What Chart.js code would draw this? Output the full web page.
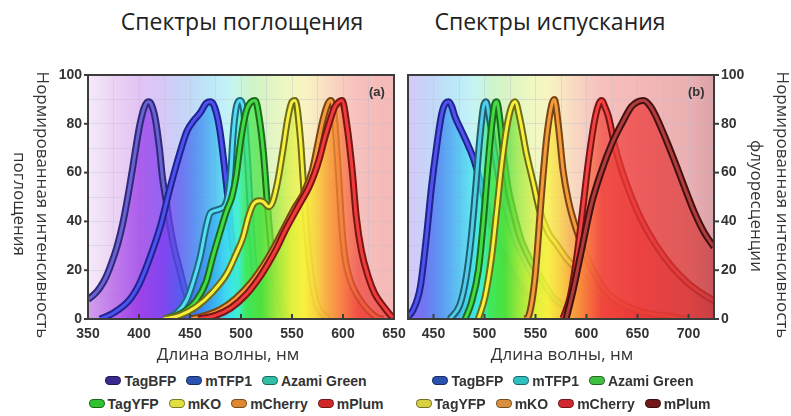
<!DOCTYPE html>
<html lang="ru">
<head>
<meta charset="UTF-8">
<title>Спектры поглощения и испускания</title>
<script src="https://cdn.jsdelivr.net/npm/chart.js"></script>
<style>
  body { margin: 0; width: 791px; height: 416px; position: relative; overflow: hidden; background: #fff; font-family: "Open Sans", sans-serif; color: #333; }
  .abs { position: absolute; white-space: nowrap; }
  .center { transform: translate(-50%, -50%); }
  .title { font-size: 23px; color: #222; }
  .xtitle { font-size: 17px; color: #333; }
  .ytitle { font-size: 17px; line-height: 20px; color: #333; transform: translate(-50%, -50%) rotate(90deg); }
  .panel { font: bold 13px "Liberation Sans", Arial, sans-serif; color: #333; }
  .legend { position: absolute; top: 369px; width: 420px; }
  .legend .row { display: flex; justify-content: center; height: 23px; align-items: center; }
  .legend .item { display: flex; align-items: center; margin: 0 5px; font: bold 14px "Liberation Sans", Arial, sans-serif; color: #333; }
  .legend .mark { width: 14px; height: 7px; border-radius: 5px; border: 1px solid rgba(0,0,0,0.45); margin-right: 3px; }
  canvas { position: absolute; top: 60px; }
</style>
</head>
<body>
<div class="abs center title" style="left:242px; top:21px;">Спектры поглощения</div>
<div class="abs center title" style="left:550px; top:21px;">Спектры испускания</div>

<canvas id="absChart" style="left:0;" width="420" height="300"></canvas>
<canvas id="emChart" style="left:400px;" width="391" height="300"></canvas>

<div class="abs ytitle" style="left:43px; top:205px;">Нормированная интенсивность</div>
<div class="abs ytitle" style="left:20px; top:204px;">поглощения</div>
<div class="abs ytitle" style="left:783px; top:205px;">Нормированная интенсивность</div>
<div class="abs ytitle" style="left:757px; top:206px;">флуоресценции</div>

<div class="abs center xtitle" style="left:228px; top:353px;">Длина волны, нм</div>
<div class="abs center xtitle" style="left:562px; top:353px;">Длина волны, нм</div>

<div class="abs panel" style="left:369px; top:84px;">(a)</div>
<div class="abs panel" style="left:688px; top:84px;">(b)</div>

<div id="absLegend" class="legend" style="left:26px;"></div>
<div id="emLegend" class="legend" style="left:353px;"></div>

<script>
// series names (same for both panels)
const names = ['TagBFP', 'mTFP1', 'Azami Green', 'TagYFP', 'mKO', 'mCherry', 'mPlum'];

// absorption spectra: [wavelength nm, normalised intensity]
const absTagBFP = [[350,8],[356,10],[362,13],[368,17.5],[374,24],[379,30.5],[384,39],[389,50],[394,62.5],[398,73],[401,80],[405,86.5],[409,89],[412,88],[416,82],[420,70],[423,58],[427,47.5],[430,39],[434,30],[440,20],[447,9],[453,2.5],[458,0]];
const absMTFP1 = [[362,0],[375,2.5],[391,8],[401,15],[411,25.5],[421,38],[430,53],[440,68],[447,77],[453,81],[460,84.5],[466,88.5],[470,89],[474,87],[479,78],[486,54],[492,29],[499,11],[505,2],[510,0]];
const absAzami = [[425,0],[437,2.5],[447,8],[453,15],[460,25.5],[466,38],[470,43.5],[479,45],[487,50],[490,60],[492,74],[495,86],[499,89.5],[503,84],[507,61],[510,38],[513,21],[518,7.5],[523,1],[526,0]];
const absTagYFP = [[427,0],[440,2],[456,7.5],[466,15.5],[472,25],[479,35],[486,44.5],[491,50],[495,58],[500,74],[505,85],[510,89],[514,89.5],[518,82],[522,68],[527,41],[532,20],[537,9],[543,2.5],[548,0]];
const absMKO = [[424,0],[440,1.5],[456,5],[472,11],[486,18.5],[495,26.5],[502,33.5],[507,41.5],[512,47],[518,48.5],[522,48],[527,46],[531,48],[536,56.5],[541,69],[546,82.5],[550,89],[553,89.5],[558,75],[561,57],[564,38],[569,17],[574,6.5],[579,2.5],[586,0]];
const absMCherry = [[450,0],[465,1.5],[480,4],[495,8.5],[510,15],[522,22],[532,29],[542,37],[552,45],[562,52],[570,61],[575,71],[580,81],[585,88],[588,89.5],[591,85],[595,63],[599,37],[602,25],[607,16],[615,9],[625,3.5],[635,0.3],[640,0]];
const absMPlum = [[458,0],[475,1.5],[490,4.5],[505,10],[518,17],[527,23],[535,29],[543,36],[552,43],[560,49],[566,53.5],[572,59.5],[577,66],[582,74],[587,81],[592,87],[596,89],[599,89.5],[604,79],[609,61],[613,42],[618,28],[625,17],[631,10.5],[640,5],[648,1],[652,0]];

// emission spectra
const emTagBFP = [[425,1],[430,3.7],[437,13],[443,33.5],[448,54],[453,70.5],[458,84],[462,88.5],[465,89],[468,87],[471,83],[477,77.5],[482,73],[489,66],[496,56],[502,46],[509,36],[515,29],[525,20],[535,13.5],[548,8],[561,4],[571,2],[585,0.5],[595,0]];
const emMTFP1 = [[466,0],[476,6],[482,17],[487,33.5],[492,57],[495.5,74.5],[499,87],[501.5,89],[505,82],[510,68],[515,55.5],[522,44.5],[528,35],[538,25.5],[548,17.5],[564,9],[575,5],[590,2],[605,0.5],[615,0]];
const emAzami = [[481,0],[487,6.5],[494,20],[499,40.5],[503,61],[507,79],[510,88],[512,89],[515,82],[518.5,68],[523,54],[528,44.5],[535,33.5],[545,24],[554,17.5],[567,9],[574,6.5],[590,3],[610,1],[625,0]];
const emTagYFP = [[494,0],[500.5,9],[507,25.5],[512,44.5],[517,64],[522,79],[526.5,87],[530,89],[535,81.5],[541,68],[548,55.5],[554,44.5],[563,35],[570,31],[580,25],[589,21],[602,14.5],[621,8],[644,3.7],[657,1],[665,0]];
const emMKO = [[540,0],[543,1],[549.5,17],[556,51.5],[561,74.5],[566,88],[568.5,90],[572.5,79],[577,61],[582,49],[589,38],[598.5,27],[608,18.5],[621,10.5],[641,5],[661,2.3],[684,1],[697,0]];
const emMCherry = [[577,0.3],[584,9],[590.5,25.5],[597,47.5],[602,65],[608,81.5],[612,88],[615,89.5],[618,87],[621.5,83],[628,70.5],[634.5,61],[644,50],[654,40.5],[667,31],[683.5,21.5],[700,14.5],[713,10.5],[725,7.5]];
const emMPlum = [[580,0],[587,12],[595,28],[605,47.5],[615,61],[625,72],[634.5,80],[644,87],[650,89],[656,89.5],[662,87.5],[667,84],[677,74.5],[687,64],[697,53],[706,43.5],[716,35],[725,29.5]];

// colours
const absLine = ['#6a62d2', '#4e52f0', '#56dcf4', '#44dc44', '#f6f03c', '#f49c3c', '#f23c3c'];
const absEdge = ['#2e2a78', '#20248e', '#1f6a80', '#1d6a1d', '#6e6c18', '#7a4515', '#7a1515'];
const absLegendColors = ['#3a2a90', '#2a50b0', '#30c0a8', '#30c030', '#e0e040', '#e08830', '#d02828'];
const emLine = ['#5054ec', '#52cce8', '#44dc44', '#f6f03c', '#f49c3c', '#f24242', '#b03c3c'];
const emEdge = ['#20248e', '#1f6070', '#1d6a1d', '#6e6c18', '#7a4515', '#7a1515', '#421010'];
const emLegendColors = ['#2a50b0', '#30c0c0', '#40c040', '#d8d040', '#d89040', '#d02830', '#701818'];

// spectrum colour stops [nm, saturated fill, pale background]
const spectrum = [
  [350, 'rgba(196,130,232,0.72)', '#f5eaf7'],
  [375, 'rgba(176,90,232,0.72)', '#ecd4f4'],
  [400, 'rgba(152,56,232,0.72)', '#e2c4f4'],
  [425, 'rgba(120,60,240,0.72)', '#d6c8f8'],
  [440, 'rgba(80,80,240,0.72)', '#c8d2f8'],
  [455, 'rgba(56,120,240,0.72)', '#c0dcf8'],
  [470, 'rgba(56,166,240,0.72)', '#bce8f8'],
  [485, 'rgba(60,216,240,0.72)', '#c2f2f8'],
  [497, 'rgba(60,240,208,0.72)', '#c8f6e6'],
  [505, 'rgba(60,232,92,0.72)', '#ccf4d0'],
  [520, 'rgba(78,224,60,0.72)', '#d8f4c4'],
  [535, 'rgba(160,232,60,0.72)', '#e6f6c2'],
  [550, 'rgba(224,240,60,0.72)', '#f2f8c2'],
  [562, 'rgba(248,240,60,0.72)', '#f8f4c2'],
  [575, 'rgba(248,206,60,0.72)', '#f8e8c2'],
  [585, 'rgba(248,166,60,0.72)', '#f8dcc2'],
  [600, 'rgba(248,118,60,0.72)', '#f8ccc0'],
  [615, 'rgba(240,70,60,0.72)', '#f6c0bc'],
  [650, 'rgba(236,56,56,0.72)', '#f4b8b8'],
  [700, 'rgba(220,56,56,0.72)', '#eab0b2'],
  [725, 'rgba(196,56,60,0.72)', '#dca2a8']
];

function spectrumGradient(chart, idx) {
  const { ctx, chartArea, scales } = chart;
  const w = chartArea.right - chartArea.left;
  const g = ctx.createLinearGradient(chartArea.left, 0, chartArea.right, 0);
  spectrum.forEach(s => {
    const t = (scales.x.getPixelForValue(s[0]) - chartArea.left) / w;
    if (t >= -0.001 && t <= 1.001) g.addColorStop(Math.min(1, Math.max(0, t)), s[idx]);
  });
  return g;
}

const spectrumFill = ctx => {
  const chart = ctx.chart;
  if (!chart.chartArea) return 'transparent';
  return spectrumGradient(chart, 1);
};

const backgroundPlugin = {
  id: 'spectrumBackground',
  beforeDraw(chart) {
    const a = chart.chartArea;
    chart.ctx.save();
    chart.ctx.fillStyle = spectrumGradient(chart, 2);
    chart.ctx.fillRect(a.left, a.top, a.right - a.left, a.bottom - a.top);
    chart.ctx.restore();
  }
};

const framePlugin = {
  id: 'frame',
  afterDraw(chart) {
    const { ctx, chartArea: a, scales } = chart;
    const yRight = scales.y.position === 'right';
    ctx.save();
    ctx.strokeStyle = '#3c3c3c';
    ctx.lineWidth = 2;
    ctx.strokeRect(a.left, a.top, a.right - a.left, a.bottom - a.top);
    scales.x.ticks.forEach(t => {
      if (t.value % 50 !== 0) return;
      const px = scales.x.getPixelForValue(t.value);
      ctx.beginPath(); ctx.moveTo(px, a.bottom); ctx.lineTo(px, a.bottom - 5); ctx.stroke();
    });
    scales.y.ticks.forEach(t => {
      if (t.value % 20 !== 0) return;
      const py = scales.y.getPixelForValue(t.value);
      ctx.beginPath();
      if (yRight) { ctx.moveTo(a.right, py); ctx.lineTo(a.right + 5, py); }
      else { ctx.moveTo(a.left, py); ctx.lineTo(a.left - 4, py); }
      ctx.stroke();
    });
    ctx.restore();
  }
};

function makeDatasets(series, lineColors, edgeColors) {
  const ds = [];
  series.forEach((s, i) => {
    const pts = s.map(p => ({ x: p[0], y: p[1] }));
    ds.push({
      label: names[i], data: pts, borderColor: edgeColors[i], borderWidth: 7,
      fill: 'origin', backgroundColor: spectrumFill, pointRadius: 0,
      cubicInterpolationMode: 'monotone', clip: 0, order: 100 - 2 * i
    });
    ds.push({
      label: names[i], data: pts, borderColor: lineColors[i], borderWidth: 3,
      fill: false, pointRadius: 0, cubicInterpolationMode: 'monotone', clip: 0, order: 99 - 2 * i
    });
  });
  return ds;
}

const tickFont = { family: '"Liberation Sans", Arial, sans-serif', weight: 'bold', size: 14 };
const gridColor = 'rgba(190,190,205,0.4)';

function makeChart(id, series, lineColors, edgeColors, xmin, xmax, yPos, padLeft, padRight, yWidth) {
  return new Chart(document.getElementById(id).getContext('2d'), {
    type: 'line',
    data: { datasets: makeDatasets(series, lineColors, edgeColors) },
    options: {
      responsive: false,
      animation: false,
      events: [],
      layout: { padding: { top: 15, left: padLeft, right: padRight, bottom: 0 } },
      plugins: { legend: { display: false }, tooltip: { enabled: false } },
      scales: {
        x: {
          type: 'linear', min: xmin, max: xmax, z: 1,
          ticks: { stepSize: 25, autoSkip: false, maxRotation: 0, padding: 7, color: '#333', font: tickFont,
                   callback: v => (v % 50 === 0 ? v : '') },
          grid: { color: gridColor, drawTicks: false },
          border: { display: false },
          afterFit: s => { s.height = 41; s.paddingLeft = 0; s.paddingRight = 0; }
        },
        y: {
          position: yPos, min: 0, max: 100, z: 1,
          ticks: { stepSize: 10, padding: yPos === 'right' ? 7 : 6, color: '#333', font: tickFont,
                   callback: v => (v % 20 === 0 ? v : '') },
          grid: { color: gridColor, drawTicks: false },
          border: { display: false },
          afterFit: s => { s.width = yWidth; s.paddingTop = 0; s.paddingBottom = 0; }
        }
      }
    },
    plugins: [backgroundPlugin, framePlugin]
  });
}

makeChart('absChart', [absTagBFP, absMTFP1, absAzami, absTagYFP, absMKO, absMCherry, absMPlum],
  absLine, absEdge, 350, 650, 'left', 0, 26, 88);
makeChart('emChart', [emTagBFP, emMTFP1, emAzami, emTagYFP, emMKO, emMCherry, emMPlum],
  emLine, emEdge, 425, 725, 'right', 8, 0, 77);

function buildLegend(id, colors) {
  const el = document.getElementById(id);
  [[0, 3], [3, 7]].forEach(([a, b]) => {
    const row = document.createElement('div');
    row.className = 'row';
    for (let i = a; i < b; i++) {
      const item = document.createElement('div');
      item.className = 'item';
      const mark = document.createElement('span');
      mark.className = 'mark';
      mark.style.background = colors[i];
      item.appendChild(mark);
      item.appendChild(document.createTextNode(names[i]));
      row.appendChild(item);
    }
    el.appendChild(row);
  });
}
buildLegend('absLegend', absLegendColors);
buildLegend('emLegend', emLegendColors);
</script>
</body>
</html>
